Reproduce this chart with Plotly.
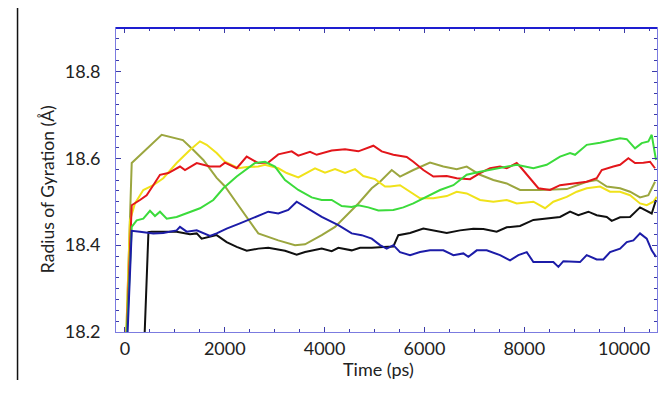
import plotly.graph_objects as go

# Radius of gyration traces (time in ps, Rg in Å)
t_olive = [0, 135, 735, 1035, 1160, 1370, 1570, 1837, 2005, 2238, 2471, 2671, 3072, 3407, 3608,
           3942, 4209, 4409, 4676, 4944, 5110, 5345, 5511, 5778, 6112, 6379, 6647, 6847, 7114,
           7381, 7649, 7916, 8317, 8851, 9252, 9452, 9653, 9920, 10120, 10320, 10487, 10620]
rg_olive = [18.10, 18.589, 18.654, 18.646, 18.642, 18.619, 18.596, 18.555, 18.535, 18.497, 18.458,
            18.427, 18.411, 18.400, 18.402, 18.423, 18.442, 18.465, 18.496, 18.531, 18.546, 18.573,
            18.558, 18.573, 18.590, 18.581, 18.575, 18.581, 18.562, 18.550, 18.542, 18.527, 18.527,
            18.529, 18.546, 18.550, 18.535, 18.531, 18.523, 18.510, 18.515, 18.546]

t_red = [0, 135, 300, 434, 567, 701, 869, 1102, 1202, 1437, 1703, 1903, 2003, 2238, 2439, 2671,
         2871, 3072, 3341, 3473, 3708, 3842, 4142, 4409, 4676, 4977, 5144, 5377, 5645, 5778, 5978,
         6179, 6447, 6647, 6914, 7114, 7315, 7515, 7649, 7849, 7916, 8116, 8283, 8517, 8717, 8984,
         9252, 9452, 9553, 9786, 9920, 10086, 10220, 10387, 10521, 10620]
rg_red = [18.10, 18.492, 18.504, 18.515, 18.538, 18.562, 18.566, 18.581, 18.573, 18.589, 18.581,
          18.581, 18.590, 18.577, 18.604, 18.589, 18.590, 18.609, 18.616, 18.606, 18.615, 18.608,
          18.618, 18.621, 18.616, 18.629, 18.616, 18.608, 18.603, 18.592, 18.573, 18.558, 18.559,
          18.554, 18.552, 18.566, 18.577, 18.581, 18.577, 18.589, 18.581, 18.554, 18.531, 18.527,
          18.538, 18.542, 18.546, 18.554, 18.573, 18.581, 18.585, 18.600, 18.589, 18.590, 18.592,
          18.577]

t_yellow = [0, 100, 200, 367, 567, 767, 1035, 1302, 1503, 1637, 1837, 2003, 2270, 2439, 2671, 2805,
            3072, 3240, 3473, 3808, 4008, 4209, 4409, 4609, 4775, 5010, 5211, 5311, 5511, 5712,
            5912, 6179, 6447, 6647, 6847, 7114, 7381, 7649, 7849, 8183, 8417, 8583, 8851, 9052,
            9252, 9519, 9719, 9920, 10120, 10320, 10454, 10587, 10655]
rg_yellow = [18.10, 18.457, 18.496, 18.527, 18.538, 18.554, 18.589, 18.619, 18.639, 18.631, 18.612,
             18.592, 18.577, 18.580, 18.581, 18.585, 18.577, 18.566, 18.556, 18.577, 18.567, 18.575,
             18.566, 18.575, 18.559, 18.552, 18.535, 18.535, 18.538, 18.523, 18.508, 18.508, 18.513,
             18.523, 18.519, 18.504, 18.500, 18.504, 18.496, 18.500, 18.485, 18.500, 18.511, 18.523,
             18.531, 18.535, 18.523, 18.523, 18.515, 18.496, 18.492, 18.500, 18.511]

t_green = [0, 135, 235, 367, 501, 601, 701, 836, 1035, 1237, 1503, 1770, 1971, 2238, 2471, 2605,
           2805, 3005, 3207, 3473, 3741, 3942, 4142, 4343, 4543, 4676, 4876, 5077, 5377, 5578, 5778,
           6046, 6313, 6580, 6847, 7114, 7381, 7649, 7849, 8183, 8450, 8717, 8918, 9018, 9252, 9519,
           9719, 9920, 10054, 10220, 10354, 10487, 10554, 10640]
rg_green = [18.10, 18.442, 18.457, 18.461, 18.479, 18.467, 18.477, 18.461, 18.465, 18.473, 18.485,
            18.504, 18.531, 18.558, 18.578, 18.589, 18.592, 18.581, 18.550, 18.527, 18.510, 18.504,
            18.504, 18.490, 18.488, 18.492, 18.487, 18.480, 18.481, 18.487, 18.496, 18.511, 18.527,
            18.538, 18.562, 18.569, 18.575, 18.581, 18.585, 18.577, 18.585, 18.604, 18.612, 18.608,
            18.631, 18.636, 18.641, 18.646, 18.644, 18.623, 18.635, 18.639, 18.654, 18.596]

t_blue = [0, 135, 300, 567, 767, 1035, 1102, 1237, 1437, 1703, 1837, 2037, 2304, 2605, 2871, 3072,
          3272, 3440, 3608, 3942, 4275, 4543, 4743, 4944, 5110, 5244, 5377, 5511, 5712, 5912, 6112,
          6379, 6580, 6780, 6880, 7048, 7248, 7515, 7716, 7882, 8050, 8183, 8383, 8583, 8684, 8784,
          9118, 9252, 9452, 9585, 9719, 9920, 10054, 10187, 10320, 10454, 10554, 10640]
rg_blue = [18.05, 18.433, 18.431, 18.427, 18.428, 18.434, 18.442, 18.431, 18.434, 18.421, 18.427,
           18.438, 18.450, 18.465, 18.477, 18.473, 18.481, 18.500, 18.488, 18.465, 18.446, 18.427,
           18.423, 18.415, 18.400, 18.392, 18.400, 18.384, 18.377, 18.384, 18.388, 18.388, 18.377,
           18.381, 18.373, 18.388, 18.388, 18.377, 18.365, 18.377, 18.384, 18.361, 18.361, 18.361,
           18.350, 18.363, 18.361, 18.377, 18.367, 18.367, 18.384, 18.392, 18.407, 18.411, 18.427,
           18.415, 18.388, 18.373]

t_black = [0, 330, 470, 534, 767, 1035, 1302, 1437, 1536, 1703, 1837, 2037, 2238, 2439, 2671, 2871,
           3207, 3440, 3608, 3942, 4142, 4275, 4543, 4710, 4944, 5177, 5377, 5477, 5712, 5978, 6179,
           6447, 6713, 6980, 7181, 7448, 7649, 7916, 8183, 8450, 8717, 8918, 9084, 9285, 9452, 9653,
           9753, 9920, 10120, 10320, 10421, 10554, 10640]
rg_black = [18.00, 18.00, 18.430, 18.431, 18.431, 18.431, 18.425, 18.427, 18.415, 18.419, 18.423,
            18.407, 18.396, 18.387, 18.392, 18.394, 18.387, 18.378, 18.384, 18.392, 18.386, 18.394,
            18.388, 18.394, 18.394, 18.396, 18.397, 18.423, 18.428, 18.438, 18.434, 18.428, 18.434,
            18.438, 18.437, 18.431, 18.441, 18.444, 18.458, 18.461, 18.465, 18.477, 18.469, 18.477,
            18.469, 18.465, 18.456, 18.464, 18.465, 18.487, 18.481, 18.473, 18.504]

x_ticks = [0, 2000, 4000, 6000, 8000, 10000]
y_ticks = [18.2, 18.4, 18.6, 18.8]

series = [
    (t_olive, rg_olive, "#9ba63f"),
    (t_yellow, rg_yellow, "#f0e21a"),
    (t_red, rg_red, "#e3161b"),
    (t_green, rg_green, "#3bdb3b"),
    (t_black, rg_black, "#101010"),
    (t_blue, rg_blue, "#1c1ca8"),
]

fig = go.Figure()
for t, rg, color in series:
    fig.add_trace(go.Scatter(x=t, y=rg, mode="lines",
                             line=dict(color=color, width=2), showlegend=False))

font_family = "Lato, 'Open Sans', sans-serif"
text_col = "#222"
axis_line = "#7b7be0"
tick_col = "#3a3aa8"

fig.update_xaxes(
    range=[-180, 10660], tickvals=x_ticks, ticktext=[str(v) for v in x_ticks],
    showgrid=False, zeroline=False, showline=True, linecolor=axis_line, linewidth=1,
    mirror="ticks", ticks="inside", ticklen=5, tickcolor=tick_col, tickwidth=1,
    minor=dict(dtick=500, tick0=0, ticks="inside", ticklen=3, tickcolor=tick_col, showgrid=False),
    tickfont=dict(family=font_family, size=18, color=text_col),
)
fig.update_yaxes(
    range=[18.2, 18.9], tickvals=y_ticks, ticktext=[f"{v:.1f}" for v in y_ticks],
    showgrid=False, zeroline=False, showline=True, linecolor=axis_line, linewidth=1,
    mirror="ticks", ticks="inside", ticklen=5, tickcolor=tick_col, tickwidth=1,
    minor=dict(dtick=0.025, tick0=18.2, ticks="inside", ticklen=3, tickcolor=tick_col, showgrid=False),
    tickfont=dict(family=font_family, size=18, color=text_col),
    ticklabelstandoff=11,
)

# axis titles
fig.add_annotation(text="Time (ps)", xref="paper", yref="paper", x=0.486, y=-0.122,
                   showarrow=False, xanchor="center", yanchor="middle",
                   font=dict(family=font_family, size=18, color=text_col))
fig.add_annotation(text="Radius of Gyration (Å)", xref="paper", yref="paper", x=-0.1275, y=0.47,
                   showarrow=False, xanchor="center", yanchor="middle", textangle=-90,
                   font=dict(family=font_family, size=17.5, color=text_col))

# heavy top frame line and the thin page rule at the far left
fig.add_shape(type="line", xref="paper", yref="paper", x0=0, x1=1, y0=1, y1=1,
              line=dict(color="#1e1ed0", width=2))
fig.add_shape(type="line", xref="paper", yref="paper", x0=-0.182, x1=-0.182, y0=1.066, y1=-0.158,
              line=dict(color="#111", width=1.5))

fig.update_layout(
    width=668, height=396,
    margin=dict(l=116, r=11, t=28, b=64),
    plot_bgcolor="white", paper_bgcolor="white",
)

fig.write_html("out.html")
